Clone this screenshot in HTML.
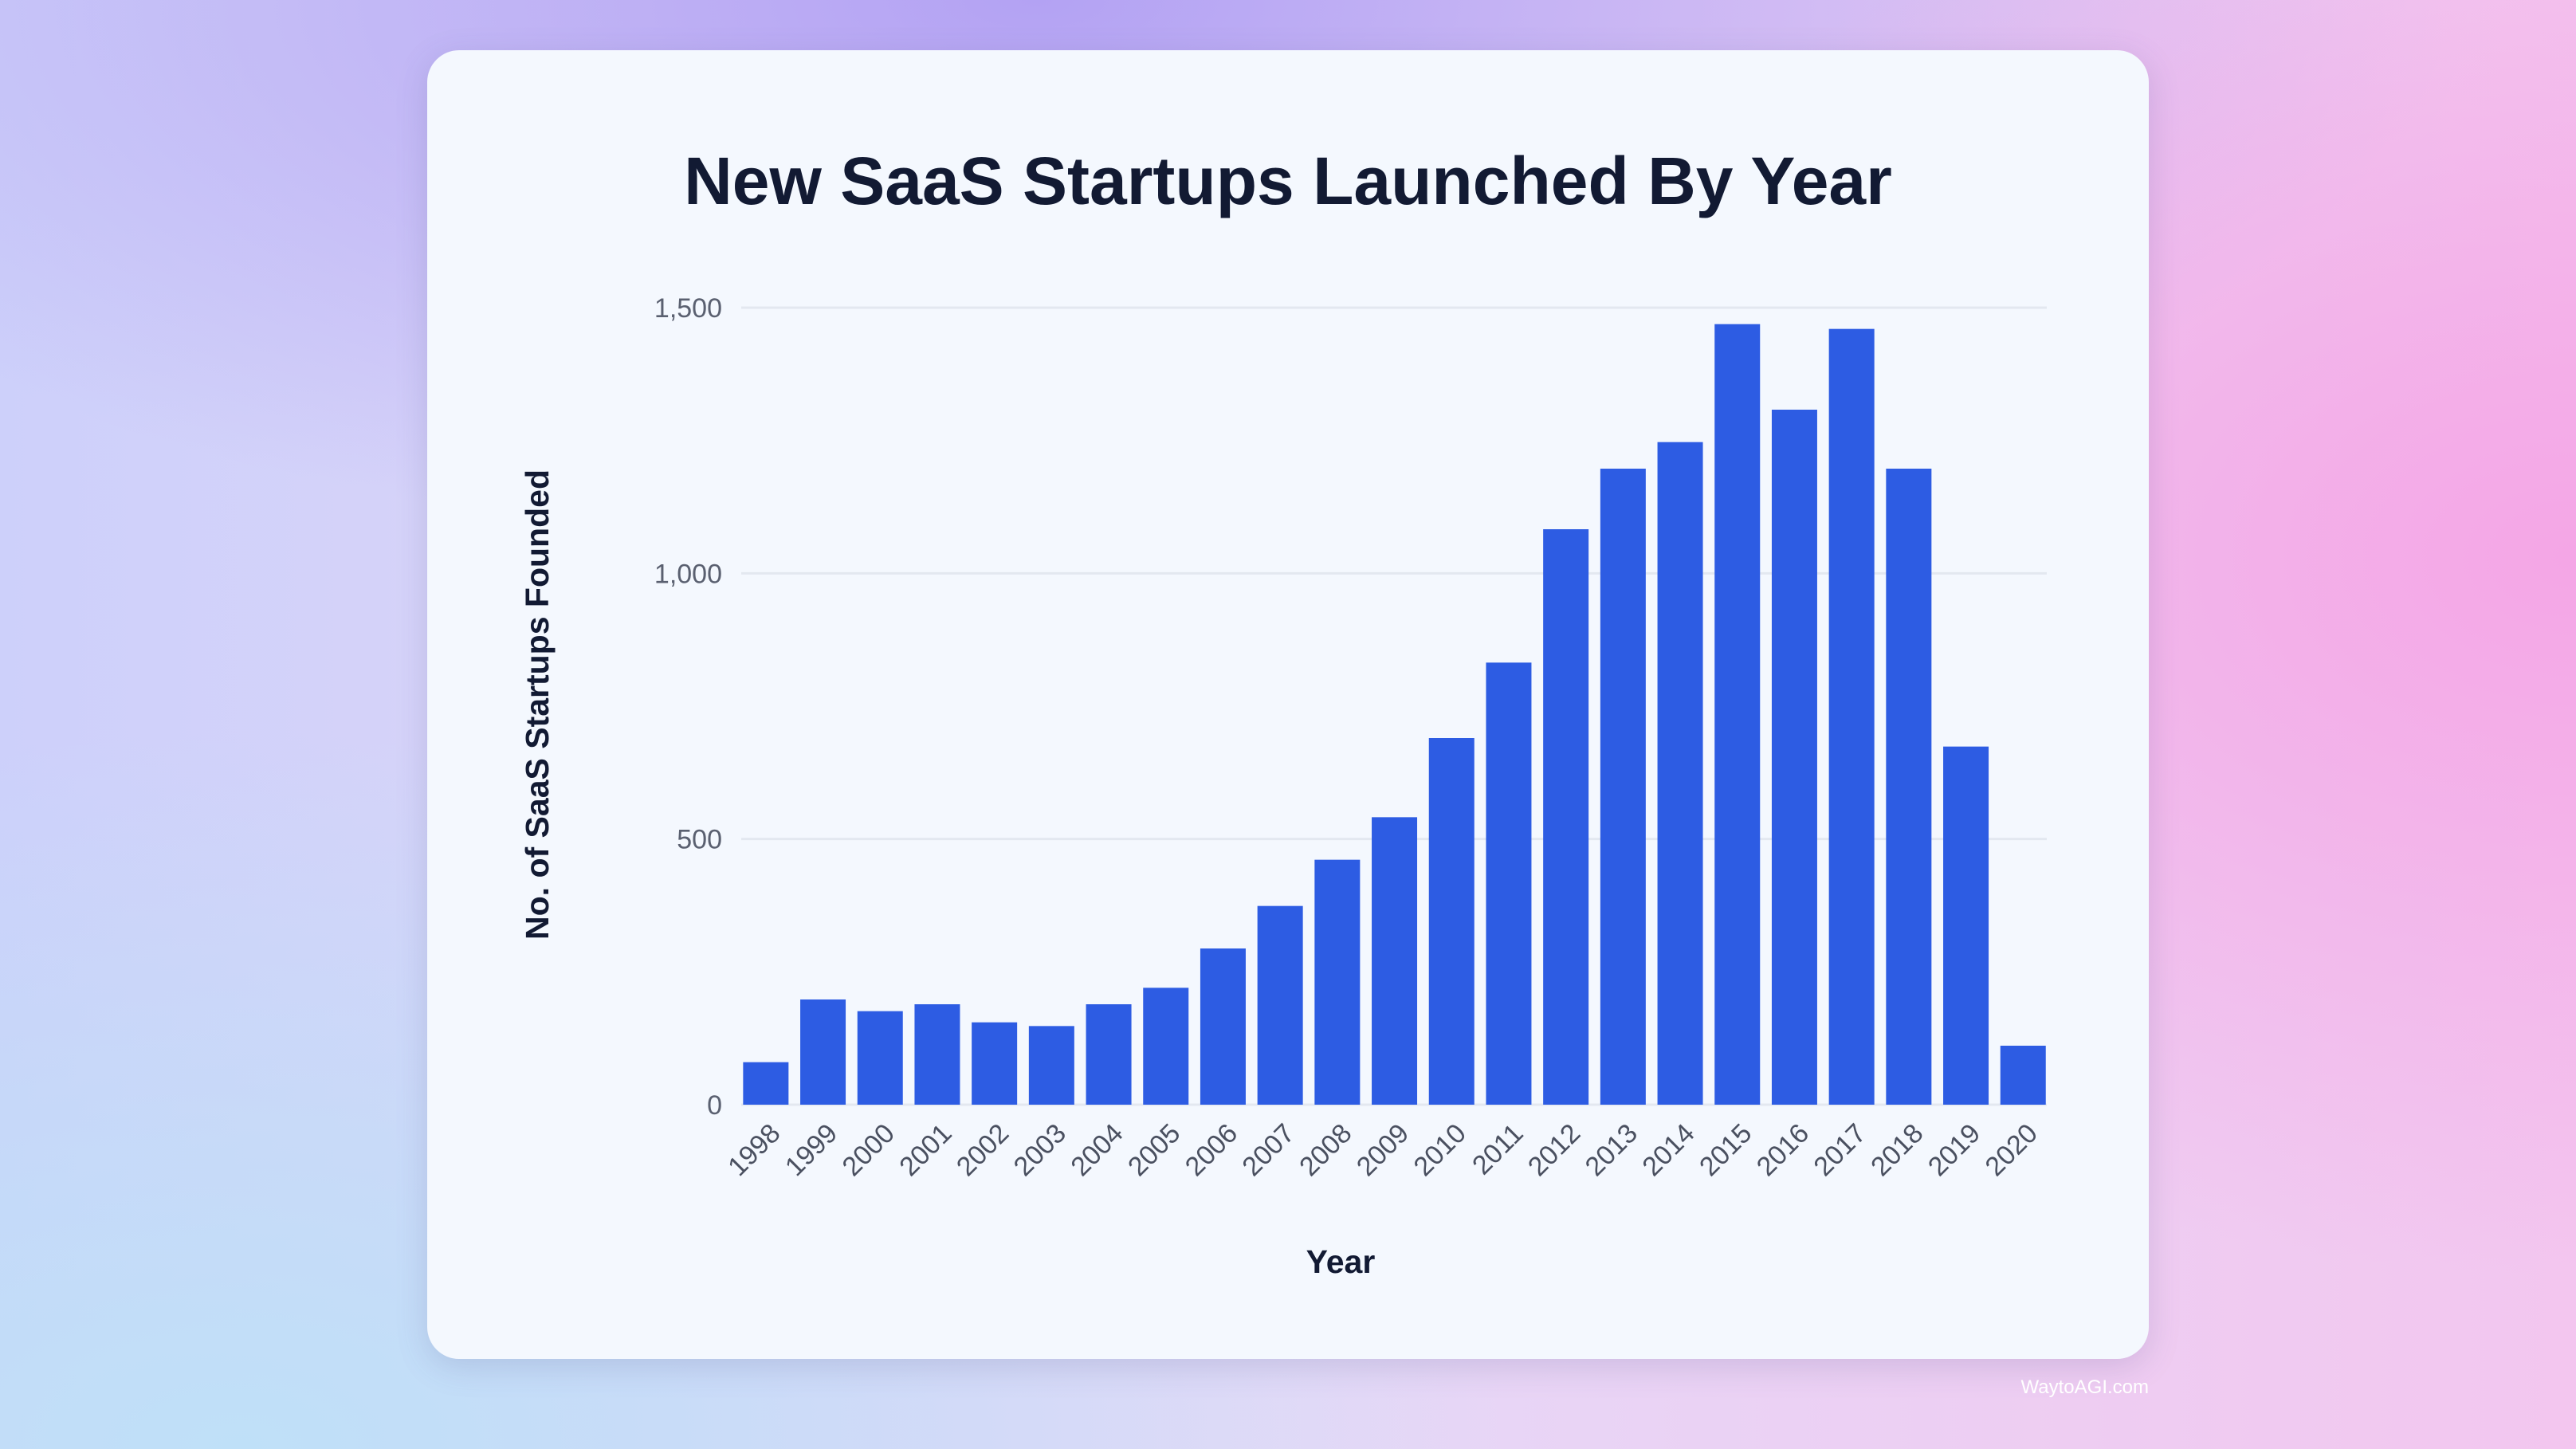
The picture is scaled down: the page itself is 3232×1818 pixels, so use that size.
<!DOCTYPE html>
<html><head><meta charset="utf-8"><style>
html,body{margin:0;padding:0;width:3232px;height:1818px;overflow:hidden}
body{background:
radial-gradient(ellipse 1400px 900px at 3232px 700px,#f4a6e6 0%,rgba(244,166,230,0) 100%),
radial-gradient(ellipse 1800px 700px at 1300px 0px,#b3a2f3 0%,rgba(179,162,243,0) 100%),
radial-gradient(ellipse 1600px 900px at 300px 1818px,#bfe0f8 0%,rgba(191,224,248,0) 100%),
linear-gradient(90deg,#cdd0fa,#e6d8f7 50%,#f3c6ef);font-family:"Liberation Sans",sans-serif}
#card{position:absolute;left:536px;top:63px;width:2160px;height:1642px;background:#f4f8fe;border-radius:40px;box-shadow:0 10px 40px rgba(80,80,140,0.18)}
</style></head><body>
<div id="card"></div>
<svg id="chart" width="3232" height="1818" style="position:absolute;left:0;top:0">
<text x="1616" y="256" text-anchor="middle" font-size="84" font-weight="bold" fill="#121a33">New SaaS Startups Launched By Year</text>
<text transform="translate(688,884) rotate(-90)" text-anchor="middle" font-size="41" font-weight="bold" fill="#121a33">No. of SaaS Startups Founded</text>
<text x="1682" y="1597" text-anchor="middle" font-size="41" font-weight="bold" fill="#121a33">Year</text>
<text x="2696" y="1748" text-anchor="end" font-size="24" fill="#ffffff">WaytoAGI.com</text>
<g id="grid"></g><g id="bars"></g><g id="labels"></g>
</svg>
<script>
const years=["1998","1999","2000","2001","2002","2003","2004","2005","2006","2007","2008","2009","2010","2011","2012","2013","2014","2015","2016","2017","2018","2019","2020"];
const values=[80,198,176,189,155,148,189,220,294,374,461,541,690,832,1083,1197,1247,1469,1308,1460,1197,674,111];
const yTicks=[0,500,1000,1500];
const yTickLabels=["0","500","1,000","1,500"];
const NS="http://www.w3.org/2000/svg";
const x0=925,pitch=71.7,bw=57,yBase=1386,yScale=1000/1500;
const y=v=>yBase-v*yScale;
const xc=i=>x0+pitch*(i+0.5);
const grid=document.getElementById('grid'),bars=document.getElementById('bars'),labels=document.getElementById('labels');
yTicks.forEach((t,i)=>{
 const l=document.createElementNS(NS,'line');
 l.setAttribute('x1',930);l.setAttribute('x2',2568);l.setAttribute('y1',y(t));l.setAttribute('y2',y(t));
 l.setAttribute('stroke','#e3e8f0');l.setAttribute('stroke-width',3);
 
 
 grid.appendChild(l);
 const tx=document.createElementNS(NS,'text');
 tx.setAttribute('x',906);tx.setAttribute('y',y(t)+12);tx.setAttribute('text-anchor','end');
 tx.setAttribute('font-size',34);tx.setAttribute('fill','#5a6070');tx.textContent=yTickLabels[i];
 
 
 labels.appendChild(tx);
});
years.forEach((yr,i)=>{
 const r=document.createElementNS(NS,'rect');
 r.setAttribute('x',xc(i)-bw/2);r.setAttribute('y',y(values[i]));r.setAttribute('width',bw);r.setAttribute('height',values[i]*yScale);
 r.setAttribute('fill','#2d5ce3');
 
 
 bars.appendChild(r);
 const tx=document.createElementNS(NS,'text');
 const lx=xc(i)+20,ly=1424;
 tx.setAttribute('transform','translate('+lx+','+ly+') rotate(-45)');
 tx.setAttribute('text-anchor','end');tx.setAttribute('font-size',34);tx.setAttribute('fill','#4a5060');
 tx.textContent=yr;
 
 
 labels.appendChild(tx);
});
</script>
</body></html>
